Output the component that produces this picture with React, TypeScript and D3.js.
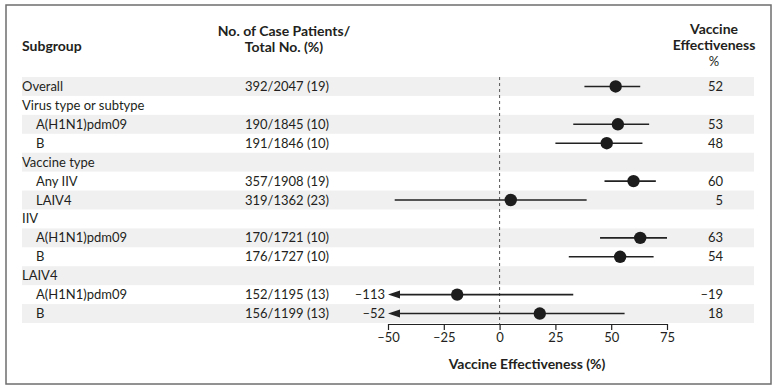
import React, { useEffect, useRef } from "react";
import * as d3 from "d3";

const subgroups = [
  "Overall",
  "Virus type or subtype",
  "A(H1N1)pdm09",
  "B",
  "Vaccine type",
  "Any IIV",
  "LAIV4",
  "IIV",
  "A(H1N1)pdm09",
  "B",
  "LAIV4",
  "A(H1N1)pdm09",
  "B",
];
const indentLevel = [0, 0, 1, 1, 0, 1, 1, 0, 1, 1, 0, 1, 1];
const caseCounts = [
  "392/2047 (19)",
  "",
  "190/1845 (10)",
  "191/1846 (10)",
  "",
  "357/1908 (19)",
  "319/1362 (23)",
  "",
  "170/1721 (10)",
  "176/1727 (10)",
  "",
  "152/1195 (13)",
  "156/1199 (13)",
];
const effectiveness: (number | null)[] = [52, null, 53, 48, null, 60, 5, null, 63, 54, null, -19, 18];
const lowerCI: (number | null)[] = [38, null, 33, 25, null, 47, -47, null, 45, 31, null, -113, -52];
const upperCI: (number | null)[] = [63, null, 67, 64, null, 70, 39, null, 75, 69, null, 33, 56];
const axisTicks = [-50, -25, 0, 25, 50, 75];

const W = 778;
const H = 391;
const FONT = "Lato, 'Noto Sans', sans-serif";
const TEXT = "#231f20";

const fmt = (v: number) => (v < 0 ? "\u2013" + Math.abs(v) : String(v));

export default function App() {
  const axisRef = useRef<SVGGElement>(null);

  const x = d3.scaleLinear().domain([-50, 75]).range([388, 667]);
  const rows = d3.range(subgroups.length);
  const y = d3.scaleBand<number>().domain(rows).range([77, 323]).padding(0);
  const axisY = 324;

  useEffect(() => {
    if (!axisRef.current) return;
    const g = d3.select(axisRef.current);
    g.selectAll("*").remove();
    g.call(
      d3
        .axisBottom(x)
        .tickValues(axisTicks)
        .tickSize(6)
        .tickSizeOuter(0)
        .tickPadding(3)
        .tickFormat((d) => fmt(d as number))
    );
    g.select(".domain").attr("stroke", "#222").attr("stroke-width", 1.2);
    g.selectAll(".tick line").attr("stroke", "#222").attr("stroke-width", 1.2);
    g.selectAll(".tick text")
      .attr("fill", TEXT)
      .attr("font-size", 13)
      .attr("font-family", FONT);
  }, []);

  const bw = y.bandwidth();

  return (
    <div style={{ position: "absolute", left: 0, top: 0 }}>
      <svg width={W} height={H} style={{ display: "block", background: "#fff" }} fontFamily={FONT}>
        <rect x={6} y={5} width={765} height={379} fill="#fff" stroke="#6e6e6e" strokeWidth={1.5} />
        {/* row shading */}
        {rows.map((i) =>
          i % 2 === 0 ? (
            <rect key={"bg" + i} x={22} y={y(i)!} width={732} height={bw} fill="#f0f0f1" />
          ) : null
        )}
        {/* headers */}
        <text x={22} y={51} fontSize={14} fontWeight="bold" fill={TEXT}>
          Subgroup
        </text>
        <text x={284} y={36} fontSize={14} fontWeight="bold" fill={TEXT} textAnchor="middle">
          No. of Case Patients/
        </text>
        <text x={284} y={52} fontSize={14} fontWeight="bold" fill={TEXT} textAnchor="middle">
          Total No. (%)
        </text>
        <text x={714} y={34} fontSize={14} fontWeight="bold" fill={TEXT} textAnchor="middle">
          Vaccine
        </text>
        <text x={714} y={50} fontSize={14} fontWeight="bold" fill={TEXT} textAnchor="middle">
          Effectiveness
        </text>
        <text x={714} y={66} fontSize={13} fill={TEXT} textAnchor="middle">
          %
        </text>
        {/* row text */}
        {rows.map((i) => {
          const cy = y(i)! + bw / 2;
          return (
            <g key={"t" + i}>
              <text x={indentLevel[i] ? 36 : 22} y={cy + 4.5} fontSize={13} fill={TEXT}>
                {subgroups[i]}
              </text>
              {caseCounts[i] && (
                <text x={245} y={cy + 4.5} fontSize={13} fill={TEXT}>
                  {caseCounts[i]}
                </text>
              )}
              {effectiveness[i] !== null && (
                <text x={723} y={cy + 4.5} fontSize={13} fill={TEXT} textAnchor="end">
                  {fmt(effectiveness[i] as number)}
                </text>
              )}
            </g>
          );
        })}
        {/* zero line */}
        <line x1={x(0)} x2={x(0)} y1={77} y2={axisY} stroke="#555" strokeWidth={1} strokeDasharray="3,3" />
        {/* CIs and points */}
        {rows.map((i) => {
          const v = effectiveness[i];
          if (v === null) return null;
          const lo = lowerCI[i] as number;
          const hi = upperCI[i] as number;
          const cy = y(i)! + bw / 2;
          const clipped = lo < x.domain()[0];
          const x0 = clipped ? x(x.domain()[0]) : x(lo);
          return (
            <g key={"m" + i}>
              <line x1={clipped ? x0 + 8 : x0} x2={x(hi)} y1={cy} y2={cy} stroke="#222" strokeWidth={1.6} />
              {clipped && (
                <>
                  <path d={`M${x0},${cy} L${x0 + 12},${cy - 4} L${x0 + 12},${cy + 4} Z`} fill="#222" />
                  <text x={x0 - 3} y={cy + 4.5} fontSize={13} fill={TEXT} textAnchor="end">
                    {fmt(lo)}
                  </text>
                </>
              )}
              <circle cx={x(v)} cy={cy} r={6.2} fill="#1c1c1c" />
            </g>
          );
        })}
        {/* axis */}
        <g ref={axisRef} transform={`translate(0,${axisY})`} />
        <text x={527} y={369} fontSize={14} fontWeight="bold" fill={TEXT} textAnchor="middle">
          Vaccine Effectiveness (%)
        </text>
      </svg>
    </div>
  );
}
